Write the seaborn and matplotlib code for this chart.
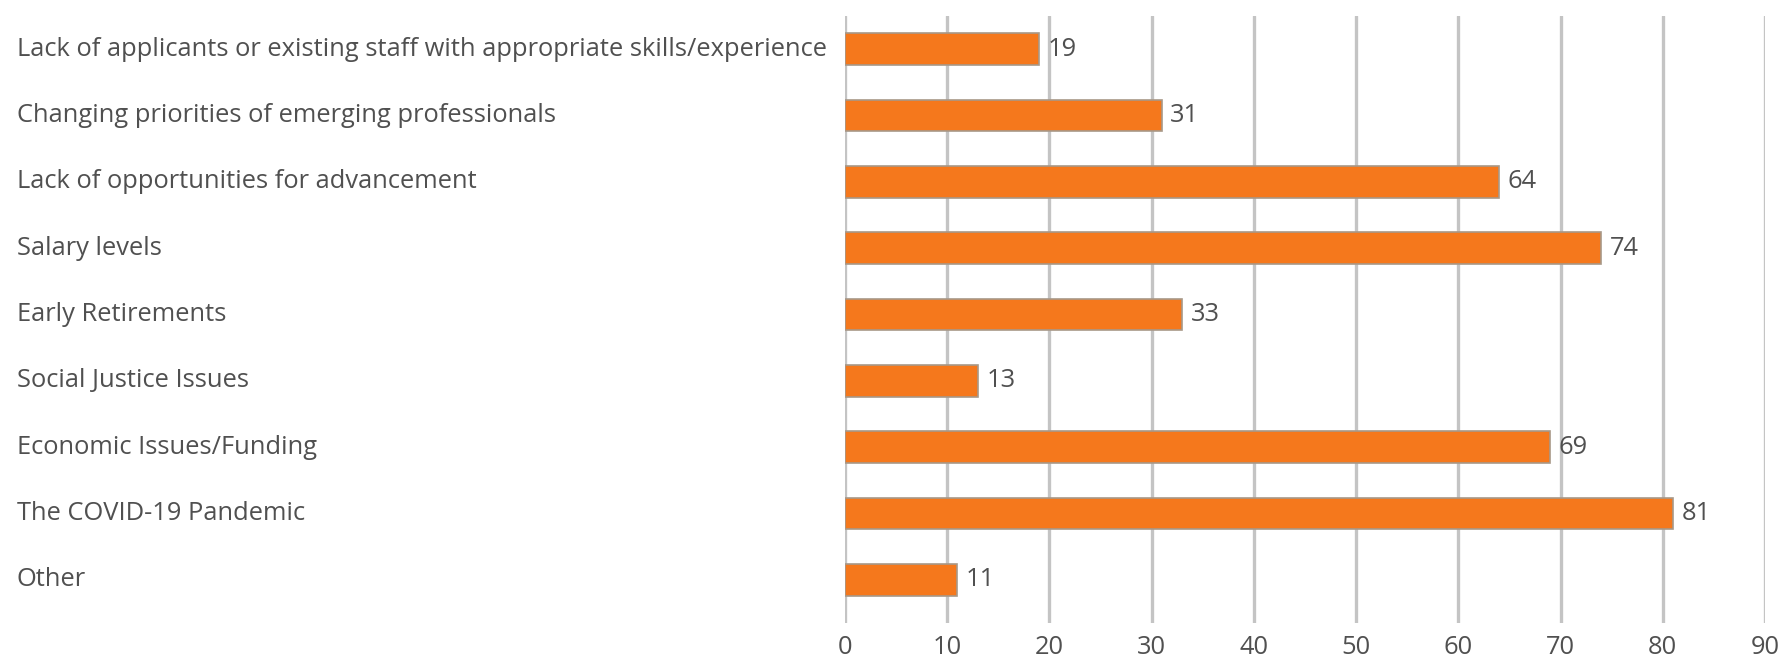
import matplotlib
matplotlib.use('Agg')
import matplotlib.pyplot as plt
import matplotlib.transforms as mtransforms
import seaborn as sns
import pandas as pd

categories = [
  'Lack of applicants or existing staff with appropriate skills/experience',
  'Changing priorities of emerging professionals',
  'Lack of opportunities for advancement',
  'Salary levels',
  'Early Retirements',
  'Social Justice Issues',
  'Economic Issues/Funding',
  'The COVID-19 Pandemic',
  'Other',
]
counts = [19, 31, 64, 74, 33, 13, 69, 81, 11]
x_ticks = list(range(0, 100, 10))

df = pd.DataFrame({'reason': categories, 'count': counts})

sns.set_style('white')
plt.rcParams['font.family'] = ['Open Sans', 'DejaVu Sans']

text_color = '#505050'
bar_color = '#F5781C'
fs = 18.4

fig = plt.figure(figsize=(17.83, 6.58), dpi=100)
ax = fig.add_axes([845 / 1783, 1 - 623 / 658, (1765 - 845) / 1783, (623 - 16) / 658])

sns.barplot(data=df, x='count', y='reason', orient='h', color=bar_color,
            saturation=1, width=0.48, edgecolor='#a89888', linewidth=1.2, ax=ax, zorder=3)

ax.set_xlim(0, 90)
ax.set_ylim(8.65, -0.5)
ax.set_xticks(x_ticks)
ax.xaxis.grid(True, color='#c4c4c4', linewidth=2.4, zorder=0)
ax.yaxis.grid(False)
ax.set_axisbelow(True)
for s in ax.spines.values():
  s.set_visible(False)
ax.set_xlabel('')
ax.set_ylabel('')
ax.tick_params(axis='x', length=0, pad=9, labelsize=fs, labelcolor=text_color)
ax.set_yticks(range(len(categories)))
ax.set_yticklabels([])
ax.tick_params(axis='y', length=0)

# category labels, left aligned at the figure's left edge
trans = mtransforms.blended_transform_factory(fig.transFigure, ax.transData)
for i, name in enumerate(categories):
  ax.text(17 / 1783, i, name, transform=trans, ha='left', va='center',
          fontsize=fs, color=text_color)

# value labels
for i, v in enumerate(counts):
  ax.annotate(str(v), xy=(v, i), xytext=(6, 0), textcoords='offset points',
              ha='left', va='center', fontsize=fs, color=text_color)

fig.savefig('out.png', dpi=100)
